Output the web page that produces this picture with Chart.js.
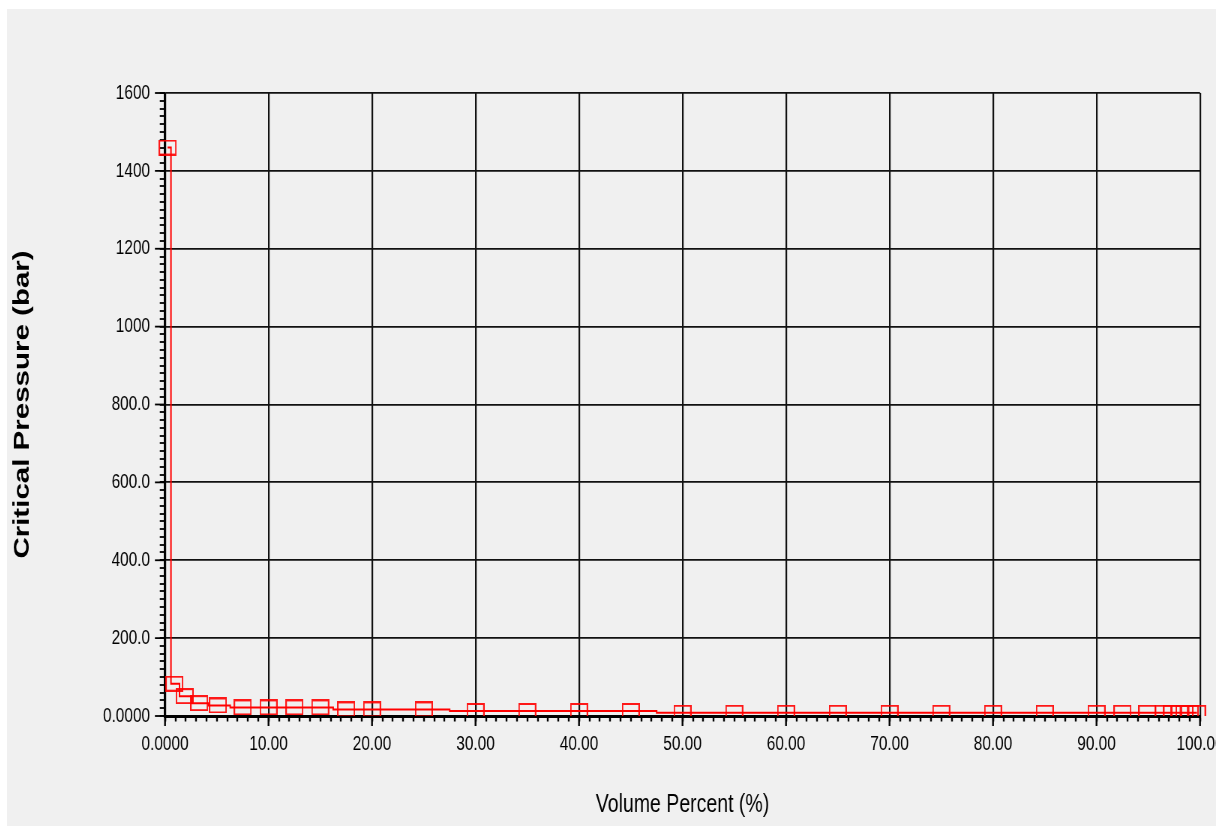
<!DOCTYPE html>
<html>
<head>
<meta charset="utf-8">
<script src="https://cdn.jsdelivr.net/npm/chart.js@4.4.1/dist/chart.umd.min.js"></script>
<style>
  html, body { margin: 0; padding: 0; background: #ffffff; width: 1216px; height: 826px; overflow: hidden; }
  #frame { position: absolute; left: 7px; top: 9px; width: 1209px; height: 817px; background: #f0f0f0; overflow: hidden; }
  #wrap { position: absolute; left: 0; top: 0; width: 1680px; height: 817px; transform: scaleX(0.75); transform-origin: 0 0; }
  canvas { display: block; width: 1680px; height: 817px; }
</style>
</head>
<body>
<div id="frame"><div id="wrap"><canvas id="c" width="1680" height="817"></canvas></div></div>
<script>
// ---- data ----
const volumePercent = [0.25, 0.9, 1.9, 3.3, 5.1, 7.5, 10, 12.5, 15, 17.5, 20, 25, 30, 35, 40, 45,
  50, 55, 60, 65, 70, 75, 80, 85, 90, 92.5, 94.9, 96.5, 97.3, 98.0, 98.5, 99.0, 99.7];
const criticalPressure = [1460, 83, 51, 33, 27, 22, 22, 22, 22, 17, 17, 17, 13, 13, 13, 13,
  8.5, 8.5, 8.5, 8.5, 8.5, 8.5, 8.5, 8.5, 8.5, 8.5, 8.5, 8.5, 8.5, 8.5, 8.5, 8.5, 8.5];

const xTickValues = [0, 10, 20, 30, 40, 50, 60, 70, 80, 90, 100];
const xTickLabels = ['0.0000', '10.00', '20.00', '30.00', '40.00', '50.00', '60.00', '70.00', '80.00', '90.00', '100.00'];
const yTickValues = [0, 200, 400, 600, 800, 1000, 1200, 1400, 1600];
const yTickLabels = ['0.0000', '200.0', '400.0', '600.0', '800.0', '1000', '1200', '1400', '1600'];
const xAxisTitle = 'Volume Percent (%)';
const yAxisTitle = 'Critical Pressure (bar)';

// ---- styling ----
const FONT = '"Liberation Sans", Arial, sans-serif';
const GRID = '#111111';

// rectangular marker (drawn wider because the page is compressed horizontally)
const marker = document.createElement('canvas');
marker.width = 24; marker.height = 16;
(function () {
  const m = marker.getContext('2d');
  m.strokeStyle = 'rgba(255,0,0,0.9)';
  m.lineWidth = 2;
  m.strokeRect(1, 1, 22, 14);
})();

const majorTicks = {
  id: 'majorTicks',
  beforeDatasetsDraw(chart) {
    const { ctx, scales: { x, y } } = chart;
    ctx.save();
    ctx.strokeStyle = '#000000';
    ctx.lineWidth = 2.4;
    xTickValues.forEach(v => {
      const p = x.getPixelForValue(v);
      ctx.beginPath(); ctx.moveTo(p, x.top); ctx.lineTo(p, x.top + 10); ctx.stroke();
    });
    ctx.lineWidth = 1.8;
    yTickValues.forEach(v => {
      const p = y.getPixelForValue(v);
      ctx.beginPath(); ctx.moveTo(y.right - 13.5, p); ctx.lineTo(y.right, p); ctx.stroke();
    });
    ctx.restore();
  }
};

new Chart(document.getElementById('c'), {
  type: 'line',
  data: {
    datasets: [{
      label: yAxisTitle,
      data: volumePercent.map((x, i) => ({ x: x, y: criticalPressure[i] })),
      borderColor: '#ff0000',
      borderWidth: 2,
      stepped: 'middle',
      tension: 0,
      fill: false,
      pointStyle: marker,
      pointRadius: 8,
      pointHoverRadius: 8,
      clip: { left: 20, top: 10, right: 20, bottom: 0 }
    }]
  },
  options: {
    responsive: false,
    animation: false,
    events: [],
    layout: { padding: { left: 0, top: 84, right: 89.3, bottom: 0 } },
    plugins: { legend: { display: false }, tooltip: { enabled: false } },
    scales: {
      x: {
        type: 'linear',
        min: 0, max: 100,
        afterFit: s => { s.height = 110; },
        border: { display: true, color: '#000000', width: 3 },
        grid: {
          color: c => xTickValues.includes(c.tick && c.tick.value) ? GRID : 'rgba(0,0,0,0)',
          lineWidth: c => xTickValues.includes(c.tick && c.tick.value) ? 2.2 : 0,
          drawTicks: true,
          tickLength: 5.5,
          tickColor: '#000000',
          tickWidth: 2.4
        },
        ticks: {
          stepSize: 1,
          autoSkip: false,
          maxRotation: 0,
          minRotation: 0,
          padding: 10.5,
          color: '#000000',
          font: { family: FONT, size: 20.5 },
          callback: v => { const i = xTickValues.indexOf(v); return i >= 0 ? xTickLabels[i] : ''; }
        },
        title: {
          display: true,
          text: xAxisTitle,
          color: '#000000',
          font: { family: FONT, size: 26 },
          padding: { top: 0, bottom: 6 }
        }
      },
      y: {
        type: 'linear',
        min: 0, max: 1600,
        afterFit: s => { s.width = 210.7; },
        border: { display: true, color: '#000000', width: 2.7 },
        grid: {
          color: c => yTickValues.includes(c.tick && c.tick.value) ? GRID : 'rgba(0,0,0,0)',
          lineWidth: c => yTickValues.includes(c.tick && c.tick.value) ? 1.8 : 0,
          drawTicks: true,
          tickLength: 7,
          tickColor: '#000000',
          tickWidth: 1.8
        },
        ticks: {
          stepSize: 20,
          autoSkip: false,
          padding: 13,
          color: '#000000',
          font: { family: FONT, size: 20.5 },
          callback: v => { const i = yTickValues.indexOf(v); return i >= 0 ? yTickLabels[i] : ''; }
        },
        title: {
          display: true,
          text: yAxisTitle,
          color: '#000000',
          font: { family: FONT, size: 29.5, weight: 'bold' },
          padding: { top: 3.6, bottom: 0 }
        }
      }
    }
  },
  plugins: [majorTicks]
});
</script>
</body>
</html>
